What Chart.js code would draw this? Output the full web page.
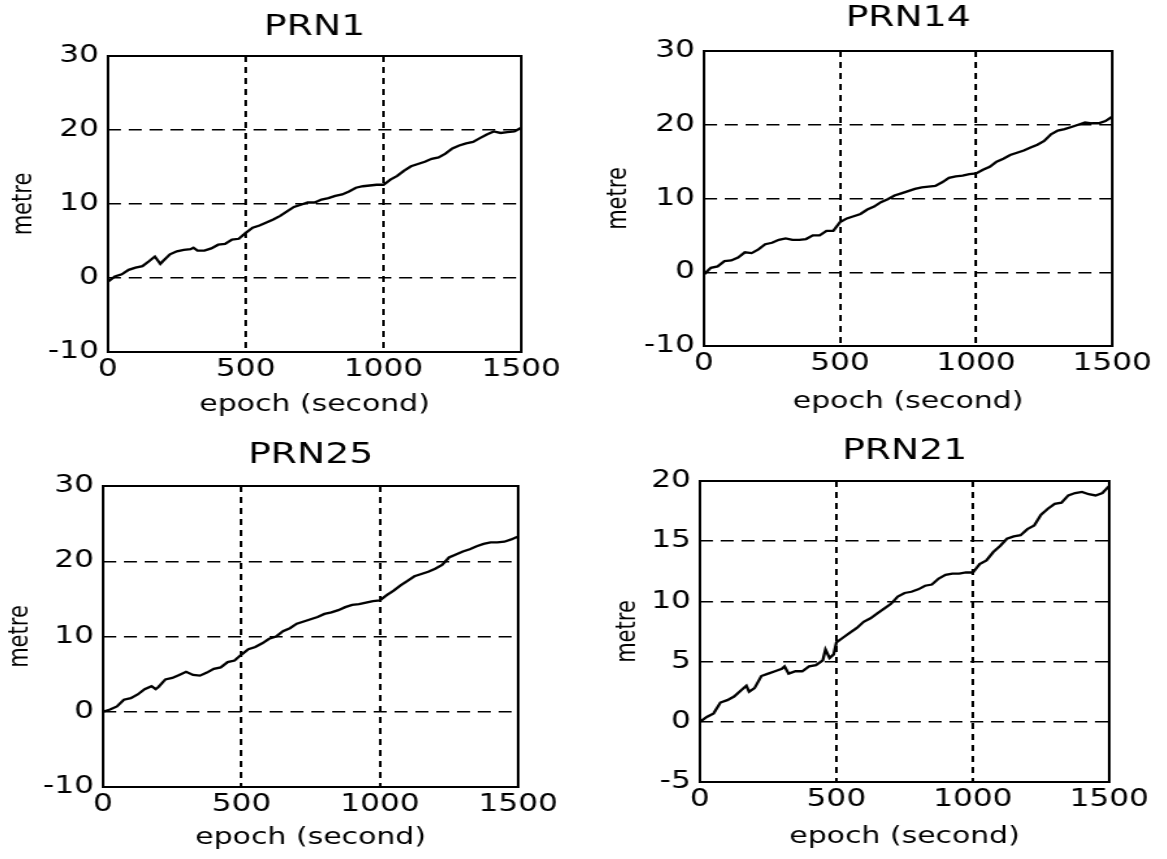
<!DOCTYPE html>
<html>
<head>
<meta charset="utf-8">
<title>PRN1 / PRN14 / PRN25 / PRN21</title>
<script src="https://cdn.jsdelivr.net/npm/chart.js@4.4.1/dist/chart.umd.min.js"></script>
<style>
  html, body { margin: 0; padding: 0; background: #fff; overflow: hidden; }
  #wrap { position: relative; width: 1167px; height: 859px; }
  canvas { position: absolute; }
</style>
</head>
<body>
<div id="wrap">
  <canvas id="c1"></canvas>
  <canvas id="c2"></canvas>
  <canvas id="c3"></canvas>
  <canvas id="c4"></canvas>
</div>
<script>
// ---- data ----
const xTicks = [0, 500, 1000, 1500];
const yTicks30 = [-10, 0, 10, 20, 30];
const yTicks20 = [-5, 0, 5, 10, 15, 20];

const prn1Epoch = [0,25,50,75,100,125,150,170,190,200,225,250,275,300,310,325,350,375,400,425,450,475,500,
  525,550,575,600,625,650,675,700,725,750,775,800,825,850,875,900,925,950,975,1000,
  1025,1050,1075,1100,1125,1150,1175,1200,1225,1250,1275,1300,1325,1350,1375,1400,1425,1450,1475,1500];
const prn1Metre = [-0.5,0.2,0.5,1.1,1.4,1.6,2.3,2.9,1.9,2.3,3.2,3.6,3.8,3.9,4.1,3.7,3.7,4.0,4.5,4.6,5.2,5.3,6.1,
  6.8,7.1,7.5,7.9,8.4,9.0,9.6,9.9,10.2,10.2,10.6,10.8,11.1,11.3,11.7,12.2,12.4,12.5,12.6,12.6,
  13.3,13.8,14.5,15.1,15.4,15.7,16.1,16.3,16.8,17.5,17.9,18.2,18.4,18.9,19.4,19.8,19.6,19.7,19.8,20.3];

const prn14Epoch = [0,25,50,75,100,125,150,175,200,225,250,275,300,325,350,375,400,425,450,475,500,
  525,550,575,600,625,650,675,700,725,750,775,800,825,850,875,900,925,950,975,1000,
  1025,1050,1075,1100,1125,1150,1175,1200,1225,1250,1275,1300,1325,1350,1375,1400,1425,1450,1475,1500];
const prn14Metre = [-0.3,0.6,0.8,1.5,1.6,2.0,2.7,2.6,3.1,3.8,4.0,4.4,4.6,4.4,4.4,4.5,5.0,5.0,5.6,5.6,6.8,
  7.3,7.6,7.9,8.5,8.9,9.5,9.9,10.4,10.7,11.0,11.3,11.5,11.6,11.7,12.2,12.8,13.0,13.1,13.3,13.4,
  13.9,14.3,15.0,15.4,15.9,16.2,16.5,16.9,17.3,17.8,18.7,19.2,19.4,19.7,20.0,20.3,20.2,20.2,20.5,21.1];

const prn25Epoch = [0,25,50,75,100,125,150,175,190,200,225,250,275,300,325,350,375,400,425,450,475,500,
  525,550,575,600,625,650,675,700,725,750,775,800,825,850,875,900,925,950,975,1000,
  1025,1050,1075,1100,1125,1150,1175,1200,1225,1250,1275,1300,1325,1350,1375,1400,1425,1450,1475,1500];
const prn25Metre = [0.0,0.3,0.7,1.6,1.8,2.3,3.0,3.4,3.0,3.3,4.3,4.5,4.9,5.3,4.9,4.8,5.2,5.7,5.9,6.6,6.8,7.6,
  8.3,8.6,9.1,9.7,10.0,10.7,11.1,11.7,12.0,12.3,12.6,13.0,13.2,13.5,13.9,14.2,14.3,14.5,14.7,14.8,
  15.5,16.1,16.8,17.4,18.0,18.3,18.6,19.0,19.5,20.5,20.9,21.3,21.6,22.0,22.3,22.5,22.5,22.6,22.9,23.3];

const prn21Epoch = [0,25,50,75,100,125,150,170,180,200,225,250,275,300,310,325,350,375,400,425,450,460,475,490,500,
  525,550,575,600,625,650,675,700,725,750,775,800,825,850,875,900,925,950,975,1000,
  1025,1050,1075,1100,1125,1150,1175,1200,1225,1250,1275,1300,1325,1350,1375,1400,1425,1450,1475,1500];
const prn21Metre = [0.0,0.4,0.7,1.6,1.8,2.1,2.6,3.0,2.5,2.8,3.8,4.0,4.2,4.4,4.6,4.0,4.2,4.2,4.6,4.7,5.1,6.0,5.3,5.6,6.6,
  7.0,7.4,7.8,8.3,8.6,9.0,9.4,9.8,10.4,10.7,10.8,11.0,11.3,11.4,11.9,12.2,12.3,12.3,12.4,12.4,
  13.1,13.4,14.1,14.6,15.2,15.4,15.5,16.0,16.3,17.2,17.7,18.1,18.2,18.8,19.0,19.1,18.9,18.8,19.0,19.6];

const panels = [
  { id: 'c1', title: 'PRN1',  epoch: prn1Epoch,  metre: prn1Metre,  yTicks: yTicks30 },
  { id: 'c2', title: 'PRN14', epoch: prn14Epoch, metre: prn14Metre, yTicks: yTicks30 },
  { id: 'c3', title: 'PRN25', epoch: prn25Epoch, metre: prn25Metre, yTicks: yTicks30 },
  { id: 'c4', title: 'PRN21', epoch: prn21Epoch, metre: prn21Metre, yTicks: yTicks20 }
];

// ---- layout: plot box in page px (left, top, right, bottom) + gaps for title / ylabel / xlabel ----
const frames = [
  [108, 56, 522, 352, 29, 84, 53],
  [704, 51, 1112, 346, 33, 85, 56],
  [103, 486, 518, 787, 31, 83, 51],
  [700, 481, 1110, 782, 30, 72, 55]
];

const S = 1.3;          // the scanned figure is stretched sideways, so the canvases are widened
const FONT = "'DejaVu Sans', sans-serif";
const YW = 80, RP = 36, TOP = 56, XH = 72;
const TITLE_SIZE = 29;

const boxFrame = {
  id: 'boxFrame',
  afterDatasetsDraw(chart) {
    const { ctx, chartArea: a } = chart;
    ctx.save();
    ctx.lineWidth = 2;
    ctx.strokeStyle = '#000';
    ctx.strokeRect(a.left, a.top, a.right - a.left, a.bottom - a.top);
    ctx.restore();
  }
};

function makeChart(p, f) {
  const [L, T, R, B, titleGap, yTitleGap, xTitleGap] = f;
  const wc = Math.round((R - L) / S + YW + RP);
  const hc = (B - T) + TOP + XH;
  const cv = document.getElementById(p.id);
  cv.width = wc;
  cv.height = hc;
  cv.style.left = (L - YW * S) + 'px';
  cv.style.top = (T - TOP) + 'px';
  cv.style.width = (wc * S) + 'px';
  cv.style.height = hc + 'px';

  const tLH = TITLE_SIZE * 1.2;
  const tTop = TOP - titleGap - tLH / 2;
  const yLH = 21 * 1.2;
  const yPad = YW - yTitleGap / S - yLH / 2;
  const xLH = 23 * 1.2;
  const xPad = XH - xTitleGap - xLH / 2;
  const yt = p.yTicks;

  return new Chart(cv.getContext('2d'), {
    type: 'line',
    data: {
      datasets: [{
        data: p.epoch.map((x, i) => ({ x: x, y: p.metre[i] })),
        borderColor: '#000',
        borderWidth: 2.3,
        pointRadius: 0,
        tension: 0,
        fill: false
      }]
    },
    options: {
      responsive: false,
      animation: false,
      events: [],
      layout: { padding: { left: 0, top: 0, right: RP, bottom: 0 } },
      plugins: {
        legend: { display: false },
        tooltip: { enabled: false },
        title: {
          display: true, text: p.title, fullSize: false, color: '#000',
          font: { family: FONT, size: TITLE_SIZE, weight: 'normal' },
          padding: { top: tTop, bottom: TOP - tLH - tTop }
        }
      },
      scales: {
        x: {
          type: 'linear', min: xTicks[0], max: xTicks[xTicks.length - 1],
          afterBuildTicks: s => { s.ticks = xTicks.map(v => ({ value: v })); },
          afterFit: s => { s.height = XH; },
          ticks: { color: '#000', padding: 3, maxRotation: 0, autoSkip: false,
                   font: { family: FONT, size: 24 }, callback: v => String(v) },
          grid: { color: '#000', lineWidth: 2, drawTicks: false },
          border: { display: false, dash: [6, 5] },
          title: { display: true, text: 'epoch (second)', color: '#000',
                   font: { family: FONT, size: 23 }, padding: { top: 0, bottom: xPad } }
        },
        y: {
          min: yt[0], max: yt[yt.length - 1],
          afterBuildTicks: s => { s.ticks = yt.map(v => ({ value: v })); },
          afterFit: s => { s.width = YW; },
          ticks: { color: '#000', padding: 7, font: { family: FONT, size: 24 }, callback: v => String(v) },
          grid: { color: '#000', lineWidth: 1.5, drawTicks: false },
          border: { display: false, dash: [10, 6] },
          title: { display: true, text: 'metre', color: '#000',
                   font: { family: FONT, size: 21 }, padding: { top: yPad, bottom: 0 } }
        }
      }
    },
    plugins: [boxFrame]
  });
}

panels.forEach((p, i) => makeChart(p, frames[i]));
</script>
</body>
</html>
